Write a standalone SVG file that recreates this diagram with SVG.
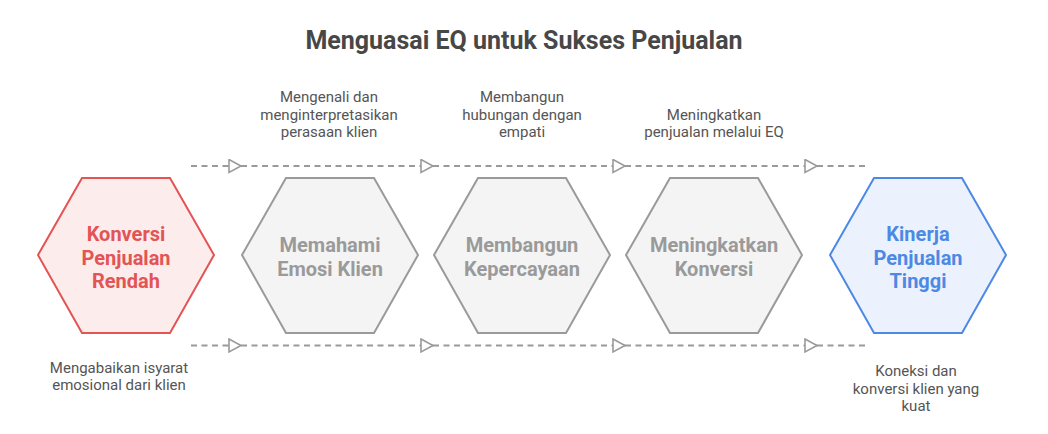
<svg xmlns="http://www.w3.org/2000/svg" width="1048" height="434" viewBox="0 0 1048 434">
<defs>
<style>
.title{font-family:Roboto,"Liberation Sans",sans-serif;font-weight:700;font-size:25px;fill:#474747;text-anchor:middle}
.lbl{font-family:Roboto,"Liberation Sans",sans-serif;font-size:15px;fill:#555555;text-anchor:middle}
.hx{font-family:Roboto,"Liberation Sans",sans-serif;font-weight:700;font-size:20px;text-anchor:middle}
.red polygon{fill:#fdecec;stroke:#e35454;stroke-width:2}
.red text{fill:#e35454}
.gray polygon{fill:#f4f4f4;stroke:#9a9a9a;stroke-width:2}
.gray text{fill:#9a9a9a}
.blue polygon{fill:#ebf2fd;stroke:#4d89e4;stroke-width:2}
.blue text{fill:#4d89e4}
.conn line{stroke:#9a9a9a;stroke-width:1.8;stroke-dasharray:6 4.5;fill:none}
</style>
<marker id="arr" markerUnits="userSpaceOnUse" markerWidth="16" markerHeight="16" refX="13" refY="7.5" orient="auto">
<path d="M1,1 L13,7.5 L1,14 Z" fill="#ffffff" stroke="#9a9a9a" stroke-width="1.6" stroke-linejoin="miter"/>
</marker>
</defs>
<rect width="1048" height="434" fill="#ffffff"/>
<text class="title" x="524" y="49">Menguasai EQ untuk Sukses Penjualan</text>

<g id="connectors" class="conn">
<line x1="191" y1="166" x2="241" y2="166" marker-end="url(#arr)"/>
<line x1="241" y1="166" x2="433" y2="166" marker-end="url(#arr)"/>
<line x1="433" y1="166" x2="625" y2="166" marker-end="url(#arr)"/>
<line x1="625" y1="166" x2="817" y2="166" marker-end="url(#arr)"/>
<line x1="817" y1="166" x2="865" y2="166"/>
<line x1="191" y1="345.5" x2="241" y2="345.5" marker-end="url(#arr)"/>
<line x1="241" y1="345.5" x2="433" y2="345.5" marker-end="url(#arr)"/>
<line x1="433" y1="345.5" x2="625" y2="345.5" marker-end="url(#arr)"/>
<line x1="625" y1="345.5" x2="817" y2="345.5" marker-end="url(#arr)"/>
<line x1="817" y1="345.5" x2="865" y2="345.5"/>
</g>

<g id="node-konversi-rendah" class="red">
<polygon points="38,255 82,178 170,178 214,255 170,333 82,333"/>
<text class="hx" x="126" y="241">Konversi</text>
<text class="hx" x="126" y="264.5">Penjualan</text>
<text class="hx" x="126" y="288">Rendah</text>
</g>
<g id="node-memahami" class="gray">
<polygon points="242,255 286,178 374,178 418,255 374,333 286,333"/>
<text class="hx" x="330" y="252">Memahami</text>
<text class="hx" x="330" y="275.5">Emosi Klien</text>
</g>
<g id="node-membangun" class="gray">
<polygon points="434,255 478,178 566,178 610,255 566,333 478,333"/>
<text class="hx" x="522" y="252">Membangun</text>
<text class="hx" x="522" y="275.5">Kepercayaan</text>
</g>
<g id="node-meningkatkan" class="gray">
<polygon points="626,255 670,178 758,178 802,255 758,333 670,333"/>
<text class="hx" x="714" y="252">Meningkatkan</text>
<text class="hx" x="714" y="275.5">Konversi</text>
</g>
<g id="node-kinerja-tinggi" class="blue">
<polygon points="830,255 874,178 962,178 1006,255 962,333 874,333"/>
<text class="hx" x="918" y="241">Kinerja</text>
<text class="hx" x="918" y="264.5">Penjualan</text>
<text class="hx" x="918" y="288">Tinggi</text>
</g>

<g id="labels">
<text class="lbl" x="329" y="102">Mengenali dan</text>
<text class="lbl" x="329" y="119.7">menginterpretasikan</text>
<text class="lbl" x="329" y="137.4">perasaan klien</text>
<text class="lbl" x="522" y="102">Membangun</text>
<text class="lbl" x="522" y="119.7">hubungan dengan</text>
<text class="lbl" x="522" y="137.4">empati</text>
<text class="lbl" x="714" y="119.7">Meningkatkan</text>
<text class="lbl" x="714" y="137.4">penjualan melalui EQ</text>
<text class="lbl" x="119" y="372.5">Mengabaikan isyarat</text>
<text class="lbl" x="119" y="390">emosional dari klien</text>
<text class="lbl" x="916" y="376">Koneksi dan</text>
<text class="lbl" x="916" y="393.5">konversi klien yang</text>
<text class="lbl" x="916" y="411">kuat</text>
</g>
</svg>
